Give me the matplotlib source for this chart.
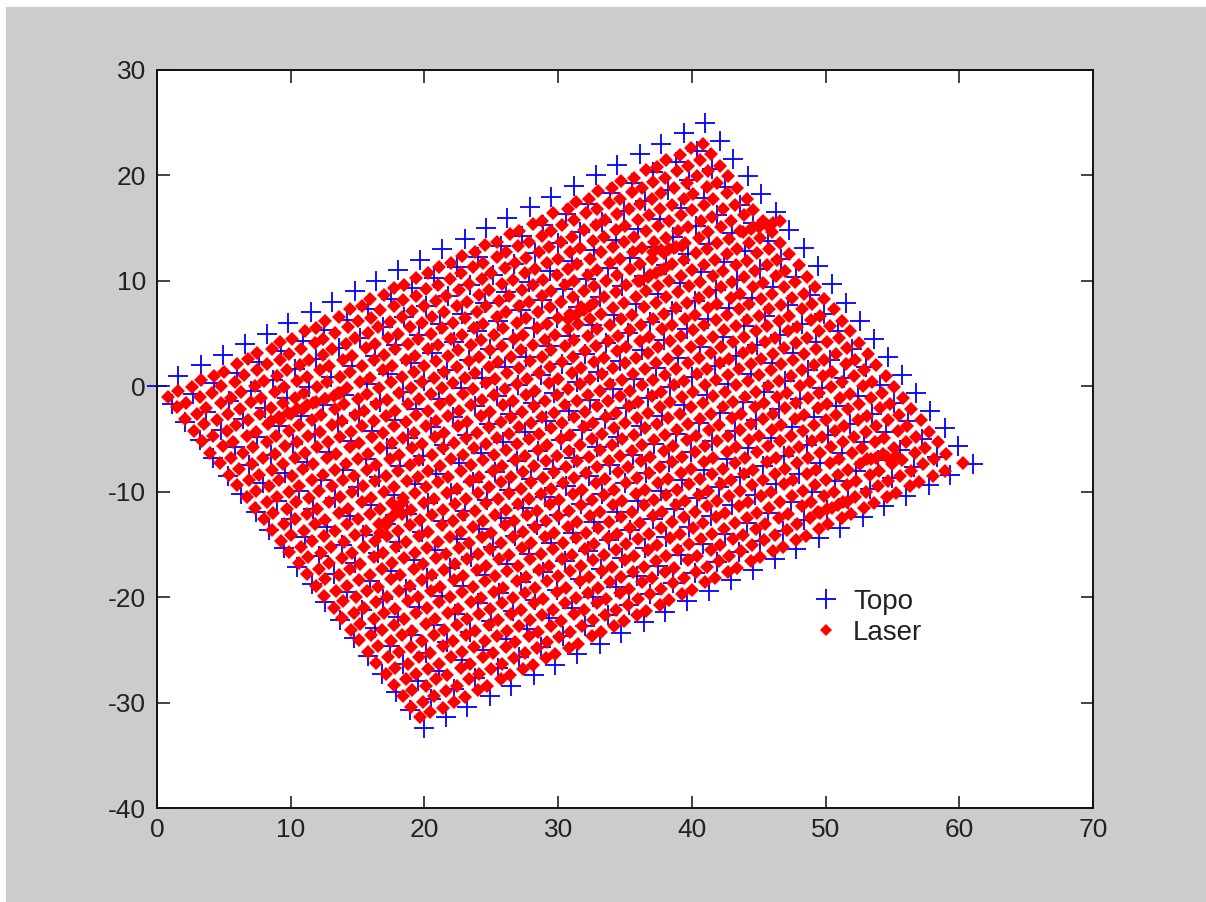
#!/usr/bin/env python3
import matplotlib
matplotlib.use('Agg')
import matplotlib.pyplot as plt
from matplotlib.patches import Rectangle

# Values read off the picture. The edge Topo points are measured; the points inside
# the cloud overlap too much to read one by one, so they are estimates by eye.
topo_x = [
    0.0, 1.6, 3.3, 4.9, 6.6, 8.2, 9.8, 11.5, 13.1, 14.8, 16.4, 18.0, 19.7, 21.3, 23.0, 24.6, 26.2, 27.9, 29.5, 31.2, 32.8, 34.4, 36.1, 37.7, 39.4, 41.0,
    1.1, 2.7, 4.3, 6.0, 7.6, 9.3, 10.9, 12.5, 14.2, 15.8, 17.5, 19.1, 20.7, 22.4, 24.0, 25.7, 27.3, 28.9, 30.6, 32.2, 33.9, 35.5, 37.1, 38.8, 40.4, 42.1,
    2.1, 3.7, 5.4, 7.0, 8.7, 10.3, 11.9, 13.6, 15.2, 16.9, 18.5, 20.1, 21.8, 23.4, 25.1, 26.7, 28.3, 30.0, 31.6, 33.3, 34.9, 36.5, 38.2, 39.8, 41.5, 43.1,
    3.2, 4.8, 6.4, 8.1, 9.7, 11.4, 13.0, 14.6, 16.3, 17.9, 19.6, 21.2, 22.8, 24.5, 26.1, 27.8, 29.4, 31.0, 32.7, 34.3, 36.0, 37.6, 39.2, 40.9, 42.5, 44.2,
    4.2, 5.8, 7.5, 9.1, 10.8, 12.4, 14.0, 15.7, 17.3, 19.0, 20.6, 22.2, 23.9, 25.5, 27.2, 28.8, 30.4, 32.1, 33.7, 35.4, 37.0, 38.6, 40.3, 41.9, 43.6, 45.2,
    5.3, 6.9, 8.5, 10.2, 11.8, 13.5, 15.1, 16.7, 18.4, 20.0, 21.7, 23.3, 24.9, 26.6, 28.2, 29.9, 31.5, 33.1, 34.8, 36.4, 38.1, 39.7, 41.3, 43.0, 44.6, 46.3,
    6.3, 7.9, 9.6, 11.2, 12.9, 14.5, 16.1, 17.8, 19.4, 21.1, 22.7, 24.3, 26.0, 27.6, 29.3, 30.9, 32.5, 34.2, 35.8, 37.5, 39.1, 40.7, 42.4, 44.0, 45.7, 47.3,
    7.4, 9.0, 10.6, 12.3, 13.9, 15.6, 17.2, 18.8, 20.5, 22.1, 23.8, 25.4, 27.0, 28.7, 30.3, 32.0, 33.6, 35.2, 36.9, 38.5, 40.2, 41.8, 43.4, 45.1, 46.7, 48.4,
    8.4, 10.0, 11.7, 13.3, 15.0, 16.6, 18.2, 19.9, 21.5, 23.2, 24.8, 26.4, 28.1, 29.7, 31.4, 33.0, 34.6, 36.3, 37.9, 39.6, 41.2, 42.8, 44.5, 46.1, 47.8, 49.4,
    9.5, 11.1, 12.7, 14.4, 16.0, 17.7, 19.3, 20.9, 22.6, 24.2, 25.9, 27.5, 29.1, 30.8, 32.4, 34.1, 35.7, 37.3, 39.0, 40.6, 42.3, 43.9, 45.5, 47.2, 48.8, 50.5,
    10.5, 12.1, 13.8, 15.4, 17.1, 18.7, 20.3, 22.0, 23.6, 25.3, 26.9, 28.5, 30.2, 31.8, 33.5, 35.1, 36.7, 38.4, 40.0, 41.7, 43.3, 44.9, 46.6, 48.2, 49.9, 51.5,
    11.6, 13.2, 14.8, 16.5, 18.1, 19.8, 21.4, 23.0, 24.7, 26.3, 28.0, 29.6, 31.2, 32.9, 34.5, 36.2, 37.8, 39.4, 41.1, 42.7, 44.4, 46.0, 47.6, 49.3, 50.9, 52.6,
    12.6, 14.2, 15.9, 17.5, 19.2, 20.8, 22.4, 24.1, 25.7, 27.4, 29.0, 30.6, 32.3, 33.9, 35.6, 37.2, 38.8, 40.5, 42.1, 43.8, 45.4, 47.0, 48.7, 50.3, 52.0, 53.6,
    13.7, 15.3, 16.9, 18.6, 20.2, 21.9, 23.5, 25.1, 26.8, 28.4, 30.1, 31.7, 33.3, 35.0, 36.6, 38.3, 39.9, 41.5, 43.2, 44.8, 46.5, 48.1, 49.7, 51.4, 53.0, 54.7,
    14.7, 16.3, 18.0, 19.6, 21.3, 22.9, 24.5, 26.2, 27.8, 29.5, 31.1, 32.7, 34.4, 36.0, 37.7, 39.3, 40.9, 42.6, 44.2, 45.9, 47.5, 49.1, 50.8, 52.4, 54.1, 55.7,
    15.8, 17.4, 19.0, 20.7, 22.3, 24.0, 25.6, 27.2, 28.9, 30.5, 32.2, 33.8, 35.4, 37.1, 38.7, 40.4, 42.0, 43.6, 45.3, 46.9, 48.6, 50.2, 51.8, 53.5, 55.1, 56.8,
    16.8, 18.4, 20.1, 21.7, 23.4, 25.0, 26.6, 28.3, 29.9, 31.6, 33.2, 34.8, 36.5, 38.1, 39.8, 41.4, 43.0, 44.7, 46.3, 48.0, 49.6, 51.2, 52.9, 54.5, 56.2, 57.8,
    17.9, 19.5, 21.1, 22.8, 24.4, 26.1, 27.7, 29.3, 31.0, 32.6, 34.3, 35.9, 37.5, 39.2, 40.8, 42.5, 44.1, 45.7, 47.4, 49.0, 50.7, 52.3, 53.9, 55.6, 57.2, 58.9,
    18.9, 20.5, 22.2, 23.8, 25.5, 27.1, 28.7, 30.4, 32.0, 33.7, 35.3, 36.9, 38.6, 40.2, 41.9, 43.5, 45.1, 46.8, 48.4, 50.1, 51.7, 53.3, 55.0, 56.6, 58.3, 59.9,
    20.0, 21.6, 23.2, 24.9, 26.5, 28.2, 29.8, 31.4, 33.1, 34.7, 36.4, 38.0, 39.6, 41.3, 42.9, 44.6, 46.2, 47.8, 49.5, 51.1, 52.8, 54.4, 56.0, 57.7, 59.3, 61.0,
]
topo_y = [
    0.0, 1.0, 2.0, 3.0, 4.0, 5.0, 6.0, 7.0, 8.0, 9.0, 10.0, 11.0, 12.0, 13.0, 14.0, 15.0, 16.0, 17.0, 18.0, 19.0, 20.0, 21.0, 22.0, 23.0, 24.0, 25.0,
    -1.7, -0.7, 0.3, 1.3, 2.3, 3.3, 4.3, 5.3, 6.3, 7.3, 8.3, 9.3, 10.3, 11.3, 12.3, 13.3, 14.3, 15.3, 16.3, 17.3, 18.3, 19.3, 20.3, 21.3, 22.3, 23.3,
    -3.4, -2.4, -1.4, -0.4, 0.6, 1.6, 2.6, 3.6, 4.6, 5.6, 6.6, 7.6, 8.6, 9.6, 10.6, 11.6, 12.6, 13.6, 14.6, 15.6, 16.6, 17.6, 18.6, 19.6, 20.6, 21.6,
    -5.1, -4.1, -3.1, -2.1, -1.1, -0.1, 0.9, 1.9, 2.9, 3.9, 4.9, 5.9, 6.9, 7.9, 8.9, 9.9, 10.9, 11.9, 12.9, 13.9, 14.9, 15.9, 16.9, 17.9, 18.9, 19.9,
    -6.8, -5.8, -4.8, -3.8, -2.8, -1.8, -0.8, 0.2, 1.2, 2.2, 3.2, 4.2, 5.2, 6.2, 7.2, 8.2, 9.2, 10.2, 11.2, 12.2, 13.2, 14.2, 15.2, 16.2, 17.2, 18.2,
    -8.5, -7.5, -6.5, -5.5, -4.5, -3.5, -2.5, -1.5, -0.5, 0.5, 1.5, 2.5, 3.5, 4.5, 5.5, 6.5, 7.5, 8.5, 9.5, 10.5, 11.5, 12.5, 13.5, 14.5, 15.5, 16.5,
    -10.2, -9.2, -8.2, -7.2, -6.2, -5.2, -4.2, -3.2, -2.2, -1.2, -0.2, 0.8, 1.8, 2.8, 3.8, 4.8, 5.8, 6.8, 7.8, 8.8, 9.8, 10.8, 11.8, 12.8, 13.8, 14.8,
    -11.9, -10.9, -9.9, -8.9, -7.9, -6.9, -5.9, -4.9, -3.9, -2.9, -1.9, -0.9, 0.1, 1.1, 2.1, 3.1, 4.1, 5.1, 6.1, 7.1, 8.1, 9.1, 10.1, 11.1, 12.1, 13.1,
    -13.6, -12.6, -11.6, -10.6, -9.6, -8.6, -7.6, -6.6, -5.6, -4.6, -3.6, -2.6, -1.6, -0.6, 0.4, 1.4, 2.4, 3.4, 4.4, 5.4, 6.4, 7.4, 8.4, 9.4, 10.4, 11.4,
    -15.3, -14.3, -13.3, -12.3, -11.3, -10.3, -9.3, -8.3, -7.3, -6.3, -5.3, -4.3, -3.3, -2.3, -1.3, -0.3, 0.7, 1.7, 2.7, 3.7, 4.7, 5.7, 6.7, 7.7, 8.7, 9.7,
    -17.1, -16.1, -15.1, -14.1, -13.1, -12.1, -11.1, -10.1, -9.1, -8.1, -7.1, -6.1, -5.1, -4.1, -3.1, -2.1, -1.1, -0.1, 0.9, 1.9, 2.9, 3.9, 4.9, 5.9, 6.9, 7.9,
    -18.8, -17.8, -16.8, -15.8, -14.8, -13.8, -12.8, -11.8, -10.8, -9.8, -8.8, -7.8, -6.8, -5.8, -4.8, -3.8, -2.8, -1.8, -0.8, 0.2, 1.2, 2.2, 3.2, 4.2, 5.2, 6.2,
    -20.5, -19.5, -18.5, -17.5, -16.5, -15.5, -14.5, -13.5, -12.5, -11.5, -10.5, -9.5, -8.5, -7.5, -6.5, -5.5, -4.5, -3.5, -2.5, -1.5, -0.5, 0.5, 1.5, 2.5, 3.5, 4.5,
    -22.2, -21.2, -20.2, -19.2, -18.2, -17.2, -16.2, -15.2, -14.2, -13.2, -12.2, -11.2, -10.2, -9.2, -8.2, -7.2, -6.2, -5.2, -4.2, -3.2, -2.2, -1.2, -0.2, 0.8, 1.8, 2.8,
    -23.9, -22.9, -21.9, -20.9, -19.9, -18.9, -17.9, -16.9, -15.9, -14.9, -13.9, -12.9, -11.9, -10.9, -9.9, -8.9, -7.9, -6.9, -5.9, -4.9, -3.9, -2.9, -1.9, -0.9, 0.1, 1.1,
    -25.6, -24.6, -23.6, -22.6, -21.6, -20.6, -19.6, -18.6, -17.6, -16.6, -15.6, -14.6, -13.6, -12.6, -11.6, -10.6, -9.6, -8.6, -7.6, -6.6, -5.6, -4.6, -3.6, -2.6, -1.6, -0.6,
    -27.3, -26.3, -25.3, -24.3, -23.3, -22.3, -21.3, -20.3, -19.3, -18.3, -17.3, -16.3, -15.3, -14.3, -13.3, -12.3, -11.3, -10.3, -9.3, -8.3, -7.3, -6.3, -5.3, -4.3, -3.3, -2.3,
    -29.0, -28.0, -27.0, -26.0, -25.0, -24.0, -23.0, -22.0, -21.0, -20.0, -19.0, -18.0, -17.0, -16.0, -15.0, -14.0, -13.0, -12.0, -11.0, -10.0, -9.0, -8.0, -7.0, -6.0, -5.0, -4.0,
    -30.7, -29.7, -28.7, -27.7, -26.7, -25.7, -24.7, -23.7, -22.7, -21.7, -20.7, -19.7, -18.7, -17.7, -16.7, -15.7, -14.7, -13.7, -12.7, -11.7, -10.7, -9.7, -8.7, -7.7, -6.7, -5.7,
    -32.4, -31.4, -30.4, -29.4, -28.4, -27.4, -26.4, -25.4, -24.4, -23.4, -22.4, -21.4, -20.4, -19.4, -18.4, -17.4, -16.4, -15.4, -14.4, -13.4, -12.4, -11.4, -10.4, -9.4, -8.4, -7.4,
]

laser_rows_x = [
    [0.8, 1.6, 2.6, 3.3, 4.3, 5.0, 6.0, 6.8, 7.5, 8.6, 9.2, 10.1, 11.1, 11.9, 12.6, 13.6, 14.4, 15.3, 15.9, 17.0, 17.7, 18.5, 19.4, 20.3, 21.1, 22.0, 22.8, 23.8, 24.5, 25.4, 26.4, 27.1, 28.1, 28.8, 29.6, 30.7, 31.3, 32.3, 33.0, 34.0, 34.7, 35.7, 36.6, 37.4, 38.1, 39.1, 39.9, 40.8],
    [1.5, 2.2, 3.2, 4.1, 4.8, 5.8, 6.5, 7.5, 8.2, 9.2, 9.9, 10.8, 11.8, 12.4, 13.3, 14.3, 15.0, 16.0, 16.7, 17.7, 18.4, 19.4, 20.1, 21.0, 21.9, 22.7, 23.6, 24.4, 25.4, 26.1, 27.0, 27.8, 28.8, 29.5, 30.3, 31.2, 32.1, 32.9, 33.8, 34.6, 35.5, 36.3, 37.1, 38.0, 38.9, 39.7, 40.6, 41.4],
    [2.1, 3.0, 3.7, 4.8, 5.5, 6.3, 7.3, 8.0, 9.0, 9.7, 10.7, 11.4, 12.4, 13.1, 14.1, 14.8, 15.8, 16.5, 17.4, 18.3, 19.1, 20.0, 20.9, 21.6, 22.6, 23.3, 24.3, 25.0, 26.0, 26.8, 27.6, 28.6, 29.3, 30.2, 31.0, 31.9, 32.8, 33.5, 34.4, 35.3, 36.1, 37.0, 37.7, 38.7, 39.6, 40.4, 41.2, 42.1],
    [2.8, 3.5, 4.5, 5.3, 6.2, 7.0, 7.8, 8.8, 9.5, 10.5, 11.2, 12.2, 12.9, 13.9, 14.6, 15.6, 16.3, 17.3, 18.0, 18.9, 19.8, 20.6, 21.5, 22.4, 23.2, 24.1, 24.8, 25.8, 26.6, 27.5, 28.3, 29.2, 30.0, 30.9, 31.6, 32.6, 33.4, 34.3, 35.0, 36.0, 36.8, 37.6, 38.5, 39.4, 40.1, 41.1, 41.9, 42.7],
    [3.4, 4.2, 5.2, 5.9, 6.8, 7.7, 8.5, 9.4, 10.3, 11.0, 12.0, 12.7, 13.7, 14.4, 15.3, 16.2, 17.0, 17.8, 18.8, 19.5, 20.5, 21.3, 22.1, 23.0, 23.9, 24.6, 25.6, 26.3, 27.3, 28.1, 28.9, 29.9, 30.7, 31.4, 32.4, 33.2, 34.1, 34.9, 35.7, 36.6, 37.5, 38.3, 39.2, 40.0, 40.9, 41.6, 42.6, 43.4],
    [4.0, 4.9, 5.7, 6.7, 7.4, 8.3, 9.2, 10.0, 10.9, 11.7, 12.6, 13.5, 14.2, 15.2, 15.9, 16.9, 17.6, 18.6, 19.3, 20.3, 21.0, 22.0, 22.8, 23.7, 24.4, 25.4, 26.1, 27.1, 27.8, 28.8, 29.5, 30.5, 31.2, 32.2, 32.9, 33.9, 34.6, 35.6, 36.3, 37.2, 38.1, 39.0, 39.7, 40.7, 41.5, 42.3, 43.2, 44.1],
    [4.7, 5.5, 6.4, 7.2, 8.2, 8.9, 9.9, 10.6, 11.6, 12.3, 13.3, 14.0, 15.0, 15.7, 16.6, 17.5, 18.3, 19.2, 20.0, 20.9, 21.8, 22.5, 23.5, 24.2, 25.2, 25.9, 26.9, 27.6, 28.5, 29.4, 30.2, 31.1, 31.9, 32.7, 33.6, 34.4, 35.4, 36.1, 37.0, 37.9, 38.7, 39.5, 40.5, 41.2, 42.2, 42.9, 43.9, 44.6],
    [5.4, 6.1, 7.1, 7.9, 8.8, 9.6, 10.5, 11.3, 12.2, 13.1, 13.8, 14.8, 15.5, 16.4, 17.2, 18.1, 19.0, 19.8, 20.7, 21.5, 22.4, 23.3, 24.1, 24.9, 25.8, 26.7, 27.4, 28.4, 29.2, 30.0, 30.9, 31.7, 32.7, 33.4, 34.3, 35.1, 36.0, 36.9, 37.7, 38.5, 39.4, 40.3, 41.1, 41.9, 42.8, 43.6, 44.6, 45.3],
    [6.0, 6.9, 7.6, 8.6, 9.4, 10.3, 11.1, 12.0, 12.8, 13.7, 14.5, 15.3, 16.2, 17.1, 17.8, 18.8, 19.6, 20.5, 21.3, 22.1, 23.0, 23.8, 24.8, 25.5, 26.5, 27.2, 28.1, 29.0, 29.8, 30.7, 31.5, 32.4, 33.2, 34.1, 34.9, 35.8, 36.6, 37.5, 38.3, 39.2, 40.0, 40.9, 41.7, 42.6, 43.4, 44.3, 45.1, 46.0],
    [6.7, 7.4, 8.4, 9.1, 10.1, 10.9, 11.7, 12.7, 13.4, 14.4, 15.1, 16.1, 16.9, 17.7, 18.6, 19.4, 20.3, 21.2, 21.9, 22.9, 23.6, 24.6, 25.3, 26.2, 27.1, 27.9, 28.8, 29.5, 30.5, 31.2, 32.2, 32.9, 33.9, 34.7, 35.5, 36.4, 37.3, 38.1, 39.0, 39.8, 40.6, 41.6, 42.3, 43.3, 44.1, 44.9, 45.8, 46.6],
    [7.3, 8.2, 9.0, 9.9, 10.6, 11.6, 12.4, 13.3, 14.1, 15.0, 15.8, 16.7, 17.6, 18.4, 19.2, 20.1, 20.9, 21.8, 22.6, 23.5, 24.3, 25.2, 26.0, 26.9, 27.7, 28.6, 29.4, 30.3, 31.1, 32.0, 32.8, 33.7, 34.5, 35.4, 36.2, 37.1, 37.9, 38.8, 39.6, 40.5, 41.3, 42.2, 43.0, 43.9, 44.7, 45.6, 46.4, 47.3],
    [8.0, 8.7, 9.7, 10.4, 11.4, 12.1, 13.1, 13.9, 14.7, 15.7, 16.4, 17.4, 18.1, 19.1, 19.8, 20.8, 21.5, 22.5, 23.2, 24.2, 24.9, 25.9, 26.6, 27.6, 28.3, 29.3, 30.0, 31.0, 31.7, 32.7, 33.4, 34.4, 35.1, 36.1, 36.8, 37.8, 38.5, 39.5, 40.2, 41.2, 41.9, 42.9, 43.6, 44.6, 45.3, 46.3, 47.0, 48.0],
    [8.6, 9.5, 10.3, 11.2, 12.0, 12.9, 13.7, 14.6, 15.4, 16.3, 17.1, 18.0, 18.9, 19.6, 20.6, 21.4, 22.2, 23.1, 23.9, 24.8, 25.7, 26.5, 27.3, 28.2, 29.0, 29.9, 30.7, 31.6, 32.4, 33.3, 34.1, 35.0, 35.8, 36.7, 37.5, 38.4, 39.2, 40.1, 40.9, 41.8, 42.6, 43.5, 44.3, 45.2, 46.0, 46.9, 47.7, 48.6],
    [9.3, 10.0, 11.0, 11.8, 12.6, 13.6, 14.3, 15.3, 16.0, 17.0, 17.7, 18.7, 19.5, 20.3, 21.2, 22.0, 22.9, 23.7, 24.6, 25.4, 26.3, 27.1, 28.0, 28.8, 29.7, 30.5, 31.4, 32.2, 33.1, 33.9, 34.8, 35.6, 36.5, 37.3, 38.2, 39.0, 39.9, 40.7, 41.6, 42.4, 43.3, 44.1, 45.0, 45.8, 46.7, 47.5, 48.4, 49.2],
    [9.9, 10.8, 11.6, 12.5, 13.3, 14.2, 15.0, 15.9, 16.7, 17.6, 18.4, 19.3, 20.1, 21.0, 21.8, 22.7, 23.5, 24.4, 25.2, 26.1, 26.9, 27.8, 28.6, 29.5, 30.3, 31.2, 32.0, 32.9, 33.7, 34.6, 35.4, 36.3, 37.1, 38.0, 38.8, 39.7, 40.5, 41.4, 42.2, 43.1, 43.9, 44.8, 45.6, 46.5, 47.3, 48.2, 49.0, 49.9],
    [10.6, 11.3, 12.3, 13.0, 14.0, 14.8, 15.6, 16.6, 17.3, 18.3, 19.0, 20.0, 20.7, 21.7, 22.4, 23.4, 24.1, 25.1, 25.8, 26.8, 27.5, 28.5, 29.2, 30.2, 30.9, 31.9, 32.6, 33.6, 34.3, 35.3, 36.0, 37.0, 37.7, 38.7, 39.4, 40.4, 41.1, 42.1, 42.8, 43.8, 44.5, 45.5, 46.2, 47.2, 47.9, 48.9, 49.6, 50.6],
    [11.2, 12.1, 12.9, 13.8, 14.6, 15.5, 16.3, 17.2, 18.0, 18.9, 19.7, 20.6, 21.4, 22.3, 23.1, 24.0, 24.8, 25.7, 26.5, 27.4, 28.2, 29.1, 29.9, 30.8, 31.6, 32.5, 33.3, 34.2, 35.0, 35.9, 36.7, 37.6, 38.4, 39.3, 40.1, 41.0, 41.8, 42.7, 43.5, 44.4, 45.2, 46.1, 46.9, 47.8, 48.6, 49.5, 50.3, 51.2],
    [11.9, 12.6, 13.6, 14.4, 15.2, 16.2, 16.9, 17.9, 18.6, 19.6, 20.3, 21.3, 22.1, 22.9, 23.8, 24.6, 25.5, 26.3, 27.2, 28.0, 28.9, 29.7, 30.6, 31.4, 32.3, 33.1, 34.0, 34.8, 35.7, 36.5, 37.4, 38.2, 39.1, 39.9, 40.8, 41.6, 42.5, 43.3, 44.2, 45.0, 45.9, 46.7, 47.6, 48.4, 49.3, 50.1, 51.0, 51.8],
    [12.5, 13.4, 14.2, 15.1, 15.9, 16.8, 17.6, 18.5, 19.3, 20.2, 21.0, 21.9, 22.7, 23.6, 24.4, 25.3, 26.1, 27.0, 27.8, 28.7, 29.5, 30.4, 31.2, 32.1, 32.9, 33.8, 34.6, 35.5, 36.3, 37.2, 38.0, 38.9, 39.7, 40.6, 41.4, 42.3, 43.1, 44.0, 44.8, 45.7, 46.5, 47.4, 48.2, 49.1, 49.9, 50.8, 51.6, 52.5],
    [13.2, 13.9, 14.9, 15.7, 16.5, 17.5, 18.2, 19.2, 19.9, 20.9, 21.6, 22.6, 23.3, 24.3, 25.0, 26.0, 26.7, 27.7, 28.4, 29.4, 30.1, 31.1, 31.8, 32.8, 33.5, 34.5, 35.2, 36.2, 36.9, 37.9, 38.6, 39.6, 40.3, 41.3, 42.0, 43.0, 43.7, 44.7, 45.4, 46.4, 47.1, 48.1, 48.8, 49.8, 50.5, 51.5, 52.2, 53.2],
    [13.8, 14.7, 15.5, 16.4, 17.2, 18.1, 18.9, 19.8, 20.6, 21.5, 22.3, 23.2, 24.0, 24.9, 25.7, 26.6, 27.4, 28.3, 29.1, 30.0, 30.8, 31.7, 32.5, 33.4, 34.2, 35.1, 35.9, 36.8, 37.6, 38.5, 39.3, 40.2, 41.0, 41.9, 42.7, 43.6, 44.4, 45.3, 46.1, 47.0, 47.8, 48.7, 49.5, 50.4, 51.2, 52.1, 52.9, 53.8],
    [14.5, 15.2, 16.2, 17.0, 17.8, 18.8, 19.5, 20.5, 21.2, 22.2, 22.9, 23.9, 24.6, 25.6, 26.3, 27.3, 28.0, 29.0, 29.7, 30.7, 31.4, 32.4, 33.1, 34.1, 34.8, 35.8, 36.5, 37.5, 38.2, 39.2, 39.9, 40.9, 41.6, 42.6, 43.3, 44.3, 45.0, 46.0, 46.7, 47.7, 48.4, 49.4, 50.1, 51.1, 51.8, 52.8, 53.5, 54.5],
    [15.1, 16.0, 16.8, 17.7, 18.5, 19.4, 20.2, 21.1, 21.9, 22.8, 23.6, 24.5, 25.3, 26.2, 27.0, 27.9, 28.7, 29.6, 30.4, 31.3, 32.1, 33.0, 33.8, 34.7, 35.5, 36.4, 37.2, 38.1, 38.9, 39.8, 40.6, 41.5, 42.3, 43.2, 44.0, 44.9, 45.7, 46.6, 47.4, 48.3, 49.1, 50.0, 50.8, 51.7, 52.5, 53.4, 54.2, 55.1],
    [15.8, 16.5, 17.5, 18.3, 19.1, 20.1, 20.8, 21.8, 22.5, 23.5, 24.2, 25.2, 25.9, 26.9, 27.6, 28.6, 29.3, 30.3, 31.0, 32.0, 32.7, 33.7, 34.4, 35.4, 36.1, 37.1, 37.8, 38.8, 39.5, 40.5, 41.2, 42.2, 42.9, 43.9, 44.6, 45.6, 46.3, 47.3, 48.0, 49.0, 49.7, 50.7, 51.4, 52.4, 53.1, 54.1, 54.8, 55.8],
    [16.4, 17.3, 18.1, 19.0, 19.8, 20.7, 21.5, 22.4, 23.2, 24.1, 24.9, 25.8, 26.6, 27.5, 28.3, 29.2, 30.0, 30.9, 31.7, 32.6, 33.4, 34.3, 35.1, 36.0, 36.8, 37.7, 38.5, 39.4, 40.2, 41.1, 41.9, 42.8, 43.6, 44.5, 45.3, 46.2, 47.0, 47.9, 48.7, 49.6, 50.4, 51.3, 52.1, 53.0, 53.8, 54.7, 55.5, 56.4],
    [17.1, 17.8, 18.8, 19.6, 20.4, 21.4, 22.1, 23.1, 23.8, 24.8, 25.5, 26.5, 27.2, 28.2, 28.9, 29.9, 30.6, 31.6, 32.3, 33.3, 34.0, 35.0, 35.7, 36.7, 37.4, 38.4, 39.1, 40.1, 40.8, 41.8, 42.5, 43.5, 44.2, 45.2, 45.9, 46.9, 47.6, 48.6, 49.3, 50.3, 51.0, 52.0, 52.7, 53.7, 54.4, 55.4, 56.1, 57.1],
    [17.7, 18.6, 19.4, 20.3, 21.1, 22.0, 22.8, 23.7, 24.5, 25.4, 26.2, 27.1, 27.9, 28.8, 29.6, 30.5, 31.3, 32.2, 33.0, 33.9, 34.7, 35.6, 36.4, 37.3, 38.1, 39.0, 39.8, 40.7, 41.5, 42.4, 43.2, 44.1, 44.9, 45.8, 46.6, 47.5, 48.3, 49.2, 50.0, 50.9, 51.7, 52.6, 53.4, 54.3, 55.1, 56.0, 56.8, 57.7],
    [18.4, 19.1, 20.1, 20.9, 21.7, 22.7, 23.4, 24.4, 25.1, 26.1, 26.8, 27.8, 28.5, 29.5, 30.2, 31.2, 31.9, 32.9, 33.6, 34.6, 35.3, 36.3, 37.0, 38.0, 38.7, 39.7, 40.4, 41.4, 42.1, 43.1, 43.8, 44.8, 45.5, 46.5, 47.2, 48.2, 48.9, 49.9, 50.6, 51.6, 52.3, 53.3, 54.0, 55.0, 55.7, 56.7, 57.4, 58.4],
    [19.0, 19.9, 20.7, 21.6, 22.4, 23.3, 24.1, 25.0, 25.8, 26.7, 27.5, 28.4, 29.2, 30.1, 30.9, 31.8, 32.6, 33.5, 34.3, 35.2, 36.0, 36.9, 37.7, 38.6, 39.4, 40.3, 41.1, 42.0, 42.8, 43.7, 44.5, 45.4, 46.2, 47.1, 47.9, 48.8, 49.6, 50.5, 51.3, 52.2, 53.0, 53.9, 54.7, 55.6, 56.4, 57.3, 58.1, 59.0],
    [19.7, 20.4, 21.4, 22.2, 23.0, 24.0, 24.7, 25.7, 26.4, 27.4, 28.1, 29.1, 29.8, 30.8, 31.5, 32.5, 33.2, 34.2, 34.9, 35.9, 36.6, 37.6, 38.3, 39.3, 40.0, 41.0, 41.7, 42.7, 43.4, 44.4, 45.1, 46.1, 46.8, 47.8, 48.5, 49.5, 50.2, 51.2, 51.9, 52.9, 53.6, 54.6, 55.3, 56.3, 57.0, 58.0, 58.9, 60.3],
]
laser_rows_y = [
    [-1.0, -0.4, -0.1, 0.6, 1.0, 1.4, 2.1, 2.6, 3.2, 3.5, 4.2, 4.5, 5.2, 5.5, 6.2, 6.6, 7.3, 7.6, 8.3, 8.7, 9.3, 9.6, 10.3, 10.7, 11.3, 11.7, 12.4, 12.7, 13.4, 13.7, 14.4, 14.7, 15.4, 15.7, 16.4, 16.8, 17.5, 17.8, 18.5, 18.8, 19.5, 19.8, 20.5, 20.8, 21.5, 21.9, 22.6, 23.0],
    [-2.0, -1.6, -1.0, -0.6, 0.0, 0.4, 1.1, 1.5, 2.1, 2.5, 3.1, 3.5, 4.1, 4.5, 5.1, 5.6, 6.2, 6.5, 7.2, 7.6, 8.2, 8.6, 9.2, 9.6, 10.2, 10.7, 11.3, 11.7, 12.3, 12.7, 13.3, 13.7, 14.3, 14.7, 15.3, 15.8, 16.4, 16.8, 17.4, 17.8, 18.4, 18.8, 19.4, 19.8, 20.4, 20.9, 21.5, 22.0],
    [-3.1, -2.6, -2.1, -1.6, -1.1, -0.5, 0.0, 0.5, 1.0, 1.5, 2.0, 2.5, 3.0, 3.5, 4.0, 4.6, 5.1, 5.6, 6.1, 6.6, 7.1, 7.6, 8.1, 8.6, 9.1, 9.7, 10.2, 10.7, 11.2, 11.7, 12.2, 12.7, 13.2, 13.7, 14.2, 14.8, 15.3, 15.8, 16.3, 16.8, 17.3, 17.8, 18.3, 18.8, 19.3, 19.9, 20.4, 20.9],
    [-4.2, -3.6, -3.2, -2.6, -2.2, -1.5, -1.1, -0.5, -0.1, 0.5, 0.9, 1.5, 1.9, 2.5, 2.9, 3.6, 4.0, 4.6, 5.0, 5.6, 6.0, 6.6, 7.0, 7.6, 8.0, 8.7, 9.1, 9.7, 10.1, 10.7, 11.1, 11.7, 12.1, 12.7, 13.1, 13.8, 14.2, 14.8, 15.2, 15.8, 16.2, 16.8, 17.2, 17.8, 18.2, 18.9, 19.3, 19.9],
    [-5.2, -4.7, -4.2, -3.7, -3.2, -2.6, -2.1, -1.6, -1.1, -0.6, -0.1, 0.4, 0.9, 1.4, 1.9, 2.5, 3.0, 3.5, 4.0, 4.5, 5.0, 5.5, 6.0, 6.5, 7.0, 7.6, 8.1, 8.6, 9.1, 9.6, 10.1, 10.6, 11.1, 11.6, 12.1, 12.7, 13.2, 13.7, 14.2, 14.7, 15.2, 15.7, 16.2, 16.7, 17.2, 17.8, 18.3, 18.8],
    [-6.3, -5.7, -5.3, -4.7, -4.3, -3.6, -3.2, -2.6, -2.2, -1.6, -1.2, -0.6, -0.2, 0.4, 0.8, 1.5, 1.9, 2.5, 2.9, 3.5, 3.9, 4.5, 4.9, 5.5, 5.9, 6.6, 7.0, 7.6, 8.0, 8.6, 9.0, 9.6, 10.0, 10.6, 11.0, 11.7, 12.1, 12.7, 13.1, 13.7, 14.1, 14.7, 15.1, 15.7, 16.1, 16.8, 17.2, 17.8],
    [-7.3, -6.8, -6.3, -5.8, -5.3, -4.7, -4.2, -3.7, -3.2, -2.7, -2.2, -1.7, -1.2, -0.7, -0.2, 0.4, 0.9, 1.4, 1.9, 2.4, 2.9, 3.4, 3.9, 4.4, 4.9, 5.5, 6.0, 6.5, 7.0, 7.5, 8.0, 8.5, 9.0, 9.5, 10.0, 10.6, 11.1, 11.6, 12.1, 12.6, 13.1, 13.6, 14.1, 14.6, 15.1, 15.7, 16.2, 16.7],
    [-8.4, -7.8, -7.4, -6.8, -6.4, -5.7, -5.3, -4.7, -4.3, -3.7, -3.3, -2.7, -2.3, -1.7, -1.3, -0.6, -0.2, 0.4, 0.8, 1.4, 1.8, 2.4, 2.8, 3.4, 3.8, 4.5, 4.9, 5.5, 5.9, 6.5, 6.9, 7.5, 7.9, 8.5, 8.9, 9.6, 10.0, 10.6, 11.0, 11.6, 12.0, 12.6, 13.0, 13.6, 14.0, 14.7, 15.1, 15.7],
    [-9.4, -8.9, -8.4, -7.9, -7.4, -6.8, -6.3, -5.8, -5.3, -4.8, -4.3, -3.8, -3.3, -2.8, -2.3, -1.7, -1.2, -0.7, -0.2, 0.3, 0.8, 1.3, 1.8, 2.3, 2.8, 3.4, 3.9, 4.4, 4.9, 5.4, 5.9, 6.4, 6.9, 7.4, 7.9, 8.5, 9.0, 9.5, 10.0, 10.5, 11.0, 11.5, 12.0, 12.5, 13.0, 13.6, 14.1, 14.6],
    [-10.5, -9.9, -9.5, -8.9, -8.5, -7.8, -7.4, -6.8, -6.4, -5.8, -5.4, -4.8, -4.4, -3.8, -3.4, -2.7, -2.3, -1.7, -1.3, -0.7, -0.3, 0.3, 0.7, 1.3, 1.7, 2.4, 2.8, 3.4, 3.8, 4.4, 4.8, 5.4, 5.8, 6.4, 6.8, 7.5, 7.9, 8.5, 8.9, 9.5, 9.9, 10.5, 10.9, 11.5, 11.9, 12.6, 13.0, 13.6],
    [-11.5, -11.0, -10.5, -10.0, -9.5, -8.9, -8.4, -7.9, -7.4, -6.9, -6.4, -5.9, -5.4, -4.9, -4.4, -3.8, -3.3, -2.8, -2.3, -1.8, -1.3, -0.8, -0.3, 0.2, 0.7, 1.3, 1.8, 2.3, 2.8, 3.3, 3.8, 4.3, 4.8, 5.3, 5.8, 6.4, 6.9, 7.4, 7.9, 8.4, 8.9, 9.4, 9.9, 10.4, 10.9, 11.5, 12.0, 12.5],
    [-12.6, -12.0, -11.6, -11.0, -10.6, -9.9, -9.5, -8.9, -8.5, -7.9, -7.5, -6.9, -6.5, -5.9, -5.5, -4.8, -4.4, -3.8, -3.4, -2.8, -2.4, -1.8, -1.4, -0.8, -0.4, 0.3, 0.7, 1.3, 1.7, 2.3, 2.7, 3.3, 3.7, 4.3, 4.7, 5.4, 5.8, 6.4, 6.8, 7.4, 7.8, 8.4, 8.8, 9.4, 9.8, 10.5, 10.9, 11.5],
    [-13.6, -13.1, -12.6, -12.1, -11.6, -11.0, -10.5, -10.0, -9.5, -9.0, -8.5, -8.0, -7.5, -7.0, -6.5, -5.9, -5.4, -4.9, -4.4, -3.9, -3.4, -2.9, -2.4, -1.9, -1.4, -0.8, -0.3, 0.2, 0.7, 1.2, 1.7, 2.2, 2.7, 3.2, 3.7, 4.3, 4.8, 5.3, 5.8, 6.3, 6.8, 7.3, 7.8, 8.3, 8.8, 9.4, 9.9, 10.4],
    [-14.7, -14.1, -13.7, -13.1, -12.7, -12.0, -11.6, -11.0, -10.6, -10.0, -9.6, -9.0, -8.6, -8.0, -7.6, -6.9, -6.5, -5.9, -5.5, -4.9, -4.5, -3.9, -3.5, -2.9, -2.5, -1.8, -1.4, -0.8, -0.4, 0.2, 0.6, 1.2, 1.6, 2.2, 2.6, 3.3, 3.7, 4.3, 4.7, 5.3, 5.7, 6.3, 6.7, 7.3, 7.7, 8.4, 8.8, 9.4],
    [-15.7, -15.2, -14.7, -14.2, -13.7, -13.1, -12.6, -12.1, -11.6, -11.1, -10.6, -10.1, -9.6, -9.1, -8.6, -8.0, -7.5, -7.0, -6.5, -6.0, -5.5, -5.0, -4.5, -4.0, -3.5, -2.9, -2.4, -1.9, -1.4, -0.9, -0.4, 0.1, 0.6, 1.1, 1.6, 2.2, 2.7, 3.2, 3.7, 4.2, 4.7, 5.2, 5.7, 6.2, 6.7, 7.3, 7.8, 8.3],
    [-16.8, -16.2, -15.8, -15.2, -14.8, -14.1, -13.7, -13.1, -12.7, -12.1, -11.7, -11.1, -10.7, -10.1, -9.7, -9.0, -8.6, -8.0, -7.6, -7.0, -6.6, -6.0, -5.6, -5.0, -4.6, -3.9, -3.5, -2.9, -2.5, -1.9, -1.5, -0.9, -0.5, 0.1, 0.5, 1.2, 1.6, 2.2, 2.6, 3.2, 3.6, 4.2, 4.6, 5.2, 5.6, 6.3, 6.7, 7.3],
    [-17.8, -17.3, -16.8, -16.3, -15.8, -15.2, -14.7, -14.2, -13.7, -13.2, -12.7, -12.2, -11.7, -11.2, -10.7, -10.1, -9.6, -9.1, -8.6, -8.1, -7.6, -7.1, -6.6, -6.1, -5.6, -5.0, -4.5, -4.0, -3.5, -3.0, -2.5, -2.0, -1.5, -1.0, -0.5, 0.1, 0.6, 1.1, 1.6, 2.1, 2.6, 3.1, 3.6, 4.1, 4.6, 5.2, 5.7, 6.2],
    [-18.9, -18.3, -17.9, -17.3, -16.9, -16.2, -15.8, -15.2, -14.8, -14.2, -13.8, -13.2, -12.8, -12.2, -11.8, -11.1, -10.7, -10.1, -9.7, -9.1, -8.7, -8.1, -7.7, -7.1, -6.7, -6.0, -5.6, -5.0, -4.6, -4.0, -3.6, -3.0, -2.6, -2.0, -1.6, -0.9, -0.5, 0.1, 0.5, 1.1, 1.5, 2.1, 2.5, 3.1, 3.5, 4.2, 4.6, 5.2],
    [-19.9, -19.4, -18.9, -18.4, -17.9, -17.3, -16.8, -16.3, -15.8, -15.3, -14.8, -14.3, -13.8, -13.3, -12.8, -12.2, -11.7, -11.2, -10.7, -10.2, -9.7, -9.2, -8.7, -8.2, -7.7, -7.1, -6.6, -6.1, -5.6, -5.1, -4.6, -4.1, -3.6, -3.1, -2.6, -2.0, -1.5, -1.0, -0.5, 0.0, 0.5, 1.0, 1.5, 2.0, 2.5, 3.1, 3.6, 4.1],
    [-21.0, -20.4, -20.0, -19.4, -19.0, -18.3, -17.9, -17.3, -16.9, -16.3, -15.9, -15.3, -14.9, -14.3, -13.9, -13.2, -12.8, -12.2, -11.8, -11.2, -10.8, -10.2, -9.8, -9.2, -8.8, -8.1, -7.7, -7.1, -6.7, -6.1, -5.7, -5.1, -4.7, -4.1, -3.7, -3.0, -2.6, -2.0, -1.6, -1.0, -0.6, 0.0, 0.4, 1.0, 1.4, 2.1, 2.5, 3.1],
    [-22.0, -21.5, -21.0, -20.5, -20.0, -19.4, -18.9, -18.4, -17.9, -17.4, -16.9, -16.4, -15.9, -15.4, -14.9, -14.3, -13.8, -13.3, -12.8, -12.3, -11.8, -11.3, -10.8, -10.3, -9.8, -9.2, -8.7, -8.2, -7.7, -7.2, -6.7, -6.2, -5.7, -5.2, -4.7, -4.1, -3.6, -3.1, -2.6, -2.1, -1.6, -1.1, -0.6, -0.1, 0.4, 1.0, 1.5, 2.0],
    [-23.1, -22.5, -22.1, -21.5, -21.1, -20.4, -20.0, -19.4, -19.0, -18.4, -18.0, -17.4, -17.0, -16.4, -16.0, -15.3, -14.9, -14.3, -13.9, -13.3, -12.9, -12.3, -11.9, -11.3, -10.9, -10.2, -9.8, -9.2, -8.8, -8.2, -7.8, -7.2, -6.8, -6.2, -5.8, -5.1, -4.7, -4.1, -3.7, -3.1, -2.7, -2.1, -1.7, -1.1, -0.7, 0.0, 0.4, 1.0],
    [-24.1, -23.6, -23.1, -22.6, -22.1, -21.5, -21.0, -20.5, -20.0, -19.5, -19.0, -18.5, -18.0, -17.5, -17.0, -16.4, -15.9, -15.4, -14.9, -14.4, -13.9, -13.4, -12.9, -12.4, -11.9, -11.3, -10.8, -10.3, -9.8, -9.3, -8.8, -8.3, -7.8, -7.3, -6.8, -6.2, -5.7, -5.2, -4.7, -4.2, -3.7, -3.2, -2.7, -2.2, -1.7, -1.1, -0.6, -0.1],
    [-25.2, -24.6, -24.2, -23.6, -23.2, -22.5, -22.1, -21.5, -21.1, -20.5, -20.1, -19.5, -19.1, -18.5, -18.1, -17.4, -17.0, -16.4, -16.0, -15.4, -15.0, -14.4, -14.0, -13.4, -13.0, -12.3, -11.9, -11.3, -10.9, -10.3, -9.9, -9.3, -8.9, -8.3, -7.9, -7.2, -6.8, -6.2, -5.8, -5.2, -4.8, -4.2, -3.8, -3.2, -2.8, -2.1, -1.7, -1.1],
    [-26.2, -25.7, -25.2, -24.7, -24.2, -23.6, -23.1, -22.6, -22.1, -21.6, -21.1, -20.6, -20.1, -19.6, -19.1, -18.5, -18.0, -17.5, -17.0, -16.5, -16.0, -15.5, -15.0, -14.5, -14.0, -13.4, -12.9, -12.4, -11.9, -11.4, -10.9, -10.4, -9.9, -9.4, -8.9, -8.3, -7.8, -7.3, -6.8, -6.3, -5.8, -5.3, -4.8, -4.3, -3.8, -3.2, -2.7, -2.2],
    [-27.3, -26.7, -26.3, -25.7, -25.3, -24.6, -24.2, -23.6, -23.2, -22.6, -22.2, -21.6, -21.2, -20.6, -20.2, -19.5, -19.1, -18.5, -18.1, -17.5, -17.1, -16.5, -16.1, -15.5, -15.1, -14.4, -14.0, -13.4, -13.0, -12.4, -12.0, -11.4, -11.0, -10.4, -10.0, -9.3, -8.9, -8.3, -7.9, -7.3, -6.9, -6.3, -5.9, -5.3, -4.9, -4.2, -3.8, -3.2],
    [-28.3, -27.8, -27.3, -26.8, -26.3, -25.7, -25.2, -24.7, -24.2, -23.7, -23.2, -22.7, -22.2, -21.7, -21.2, -20.6, -20.1, -19.6, -19.1, -18.6, -18.1, -17.6, -17.1, -16.6, -16.1, -15.5, -15.0, -14.5, -14.0, -13.5, -13.0, -12.5, -12.0, -11.5, -11.0, -10.4, -9.9, -9.4, -8.9, -8.4, -7.9, -7.4, -6.9, -6.4, -5.9, -5.3, -4.8, -4.3],
    [-29.4, -28.8, -28.4, -27.8, -27.4, -26.7, -26.3, -25.7, -25.3, -24.7, -24.3, -23.7, -23.3, -22.7, -22.3, -21.6, -21.2, -20.6, -20.2, -19.6, -19.2, -18.6, -18.2, -17.6, -17.2, -16.5, -16.1, -15.5, -15.1, -14.5, -14.1, -13.5, -13.1, -12.5, -12.1, -11.4, -11.0, -10.4, -10.0, -9.4, -9.0, -8.4, -8.0, -7.4, -7.0, -6.3, -5.9, -5.3],
    [-30.4, -29.9, -29.4, -28.9, -28.4, -27.8, -27.3, -26.8, -26.3, -25.8, -25.3, -24.8, -24.3, -23.8, -23.3, -22.7, -22.2, -21.7, -21.2, -20.7, -20.2, -19.7, -19.2, -18.7, -18.2, -17.6, -17.1, -16.6, -16.1, -15.6, -15.1, -14.6, -14.1, -13.6, -13.1, -12.5, -12.0, -11.5, -11.0, -10.5, -10.0, -9.5, -9.0, -8.5, -8.0, -7.4, -6.9, -6.4],
    [-31.4, -30.9, -30.5, -29.9, -29.5, -28.8, -28.4, -27.8, -27.4, -26.8, -26.4, -25.8, -25.4, -24.8, -24.4, -23.7, -23.3, -22.7, -22.3, -21.7, -21.3, -20.7, -20.3, -19.7, -19.3, -18.6, -18.2, -17.6, -17.2, -16.6, -16.2, -15.6, -15.2, -14.6, -14.2, -13.5, -13.1, -12.5, -12.1, -11.5, -11.1, -10.5, -10.1, -9.5, -9.1, -8.5, -8.0, -7.3],
]
# tight runs of laser points that show as solid streaks
streak_x = [8.5, 9.1, 9.8, 10.5, 11.2, 11.9, 12.6, 13.2, 13.7, 36.1, 36.7, 37.3, 37.9, 37.1, 37.7, 38.3, 38.8, 39.3, 43.8, 44.4, 45.0, 45.6, 46.1, 46.6, 16.7, 17.1, 17.6, 18.0, 18.4, 30.7, 31.3, 31.9, 32.4, 49.4, 50.1, 50.9, 51.6, 53.1, 53.8, 54.6, 55.3]
streak_y = [-3.3, -2.9, -2.5, -2.2, -1.8, -1.5, -1.2, -0.9, -0.6, 10.0, 10.4, 10.7, 11.1, 12.7, 12.9, 13.0, 13.2, 13.3, 14.6, 14.9, 15.1, 15.3, 15.5, 15.7, -13.9, -13.2, -12.4, -11.7, -11.0, 6.4, 6.8, 7.2, 7.6, -11.9, -11.6, -11.3, -11.0, -6.9, -6.8, -6.7, -6.6]

x_ticks = [0, 10, 20, 30, 40, 50, 60, 70]
y_ticks = [-40, -30, -20, -10, 0, 10, 20, 30]

W, H = 1206, 902
plt.rcParams['font.family'] = ['Liberation Sans', 'DejaVu Sans']
plt.rcParams['axes.unicode_minus'] = False

laser_x, laser_y = list(streak_x), list(streak_y)
for xs, ys in zip(laser_rows_x, laser_rows_y):
    n = min(len(xs), len(ys))
    laser_x.extend(xs[:n])
    laser_y.extend(ys[:n])

fig = plt.figure(figsize=(W / 100, H / 100), dpi=100, facecolor='white')
fig.add_artist(Rectangle((6 / W, 0), 1200 / W, 895 / H, transform=fig.transFigure, color='#cccccc', zorder=-1))
ax = fig.add_axes([157 / W, 1 - 808 / H, 936 / W, 738 / H])
ax.plot(topo_x, topo_y, '+', color='#0000ff', ms=14, mew=1.3, label='Topo', clip_on=False)
ax.plot(laser_x, laser_y, 'D', color='#ff0000', ms=7.3, mew=0, label='Laser')
ax.set_xlim(0, 70)
ax.set_ylim(-40, 30)
ax.set_xticks(x_ticks)
ax.set_yticks(y_ticks)
ax.tick_params(direction='in', length=9, width=1.2, top=True, right=True, labelsize=19, colors='#222222')
ax.tick_params(axis='x', pad=7)
ax.tick_params(axis='y', pad=8)
for s in ax.spines.values():
    s.set_linewidth(1.4)
    s.set_color('#111111')
leg = ax.legend(loc='lower left', bbox_to_anchor=(0.6847, 0.2193), frameon=False, fontsize=20, labelcolor='#222222', handletextpad=-0.02, labelspacing=0.18, borderpad=0, borderaxespad=0)
leg.legend_handles[1].set_markersize(6.2)
fig.savefig('out.png', dpi=100, facecolor=fig.get_facecolor())
